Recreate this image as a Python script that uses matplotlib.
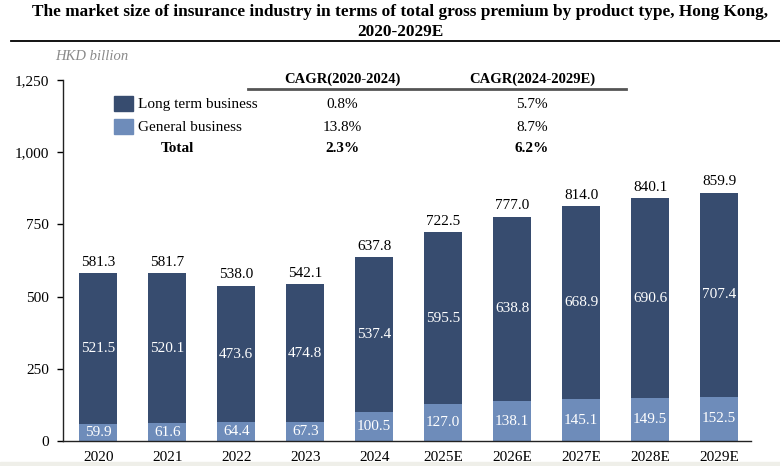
import matplotlib
matplotlib.use("Agg")
import matplotlib.pyplot as plt
from matplotlib.patches import Rectangle
from matplotlib.lines import Line2D

years = ['2020', '2021', '2022', '2023', '2024', '2025E', '2026E', '2027E', '2028E', '2029E']
long_term = [521.5, 520.1, 473.6, 474.8, 537.4, 595.5, 638.8, 668.9, 690.6, 707.4]
general = [59.9, 61.6, 64.4, 67.3, 100.5, 127.0, 138.1, 145.1, 149.5, 152.5]
total = [581.3, 581.7, 538.0, 542.1, 637.8, 722.5, 777.0, 814.0, 840.1, 859.9]

cagr_headers = ['CAGR(2020-2024)', 'CAGR(2024-2029E)']
cagr_rows = ['Long term business', 'General business', 'Total']
cagr_1 = ['0.8%', '13.8%', '2.3%']
cagr_2 = ['5.7%', '8.7%', '6.2%']
yticks = [0, 250, 500, 750, 1000, 1250]
ytick_labels = ['0', '250', '500', '750', '1,000', '1,250']

DARK = '#374c6f'
LIGHT = '#6e8cba'
W, H = 780, 466
plt.rcParams['font.family'] = ['Liberation Serif', 'DejaVu Serif']

fig = plt.figure(figsize=(W / 100, H / 100), dpi=100)

def px(x, y):
    return x / W, 1 - y / H

l, b = px(63, 441)
r, t = px(751, 80)
ax = fig.add_axes([l, b, r - l, t - b])
x = list(range(len(years)))
ax.bar(x, general, width=0.55, color=LIGHT, edgecolor='none')
ax.bar(x, long_term, width=0.55, bottom=general, color=DARK, edgecolor='none')

for i in x:
    ax.annotate(f'{total[i]:.1f}', (i, total[i]), xytext=(0, 3), textcoords='offset points',
                ha='center', va='bottom', fontsize=11, color='black')
    ax.text(i, general[i] + long_term[i] / 2, f'{long_term[i]:.1f}', ha='center', va='center',
            fontsize=11, color='white')
    ax.text(i, general[i] / 2, f'{general[i]:.1f}', ha='center', va='center',
            fontsize=11, color='white')

ax.set_xlim(-0.51, 9.46)
ax.set_ylim(0, 1250)
ax.set_xticks(x)
ax.set_xticklabels(years, fontsize=11)
ax.set_yticks(yticks)
ax.set_yticklabels(ytick_labels, fontsize=11)
ax.tick_params(axis='x', length=0, pad=7)
ax.tick_params(axis='y', length=4, width=1, pad=6)
for s in ['top', 'right']:
    ax.spines[s].set_visible(False)
for s in ['left', 'bottom']:
    ax.spines[s].set_linewidth(1)
    ax.spines[s].set_color('#222222')

# title
fig.text(*px(400, 12), 'The market size of insurance industry in terms of total gross premium by product type, Hong Kong,',
         ha='center', va='center', fontsize=12.4, fontweight='bold')
fig.text(*px(400, 32), '2020-2029E', ha='center', va='center', fontsize=12.4, fontweight='bold')
fig.add_artist(Line2D([11 / W, 1], [1 - 41 / H] * 2, color='black', lw=1.3, transform=fig.transFigure))

fig.text(*px(55, 57), 'HKD billion', ha='left', va='center', fontsize=10.5, style='italic', color='#8a8a8a')

# CAGR table
col_x = [342, 532]
fig.text(*px(col_x[0], 79), cagr_headers[0], ha='center', va='center', fontsize=10.5, fontweight='bold')
fig.text(*px(col_x[1], 79), cagr_headers[1], ha='center', va='center', fontsize=10.5, fontweight='bold')
fig.add_artist(Line2D([248 / W, 626 / W], [1 - 89 / H] * 2, color='#555555', lw=2, transform=fig.transFigure))

row_y = [104, 127, 149]
colors = [DARK, LIGHT]
for k in range(3):
    if k < 2:
        x0, y0 = px(114, row_y[k] + 7)
        fig.add_artist(Rectangle((x0, y0), 19 / W, 15 / H, color=colors[k], transform=fig.transFigure))
        fig.text(*px(138, row_y[k]), cagr_rows[k], ha='left', va='center', fontsize=11)
        fw = 'normal'
    else:
        fig.text(*px(161, row_y[k]), cagr_rows[k], ha='left', va='center', fontsize=11, fontweight='bold')
        fw = 'bold'
    fig.text(*px(col_x[0], row_y[k]), cagr_1[k], ha='center', va='center', fontsize=11, fontweight=fw)
    fig.text(*px(col_x[1], row_y[k]), cagr_2[k], ha='center', va='center', fontsize=11, fontweight=fw)

fig.add_artist(Rectangle((0, 0), 1, 4 / H, color='#efefe9', transform=fig.transFigure))

fig.savefig('out.png', dpi=100)
